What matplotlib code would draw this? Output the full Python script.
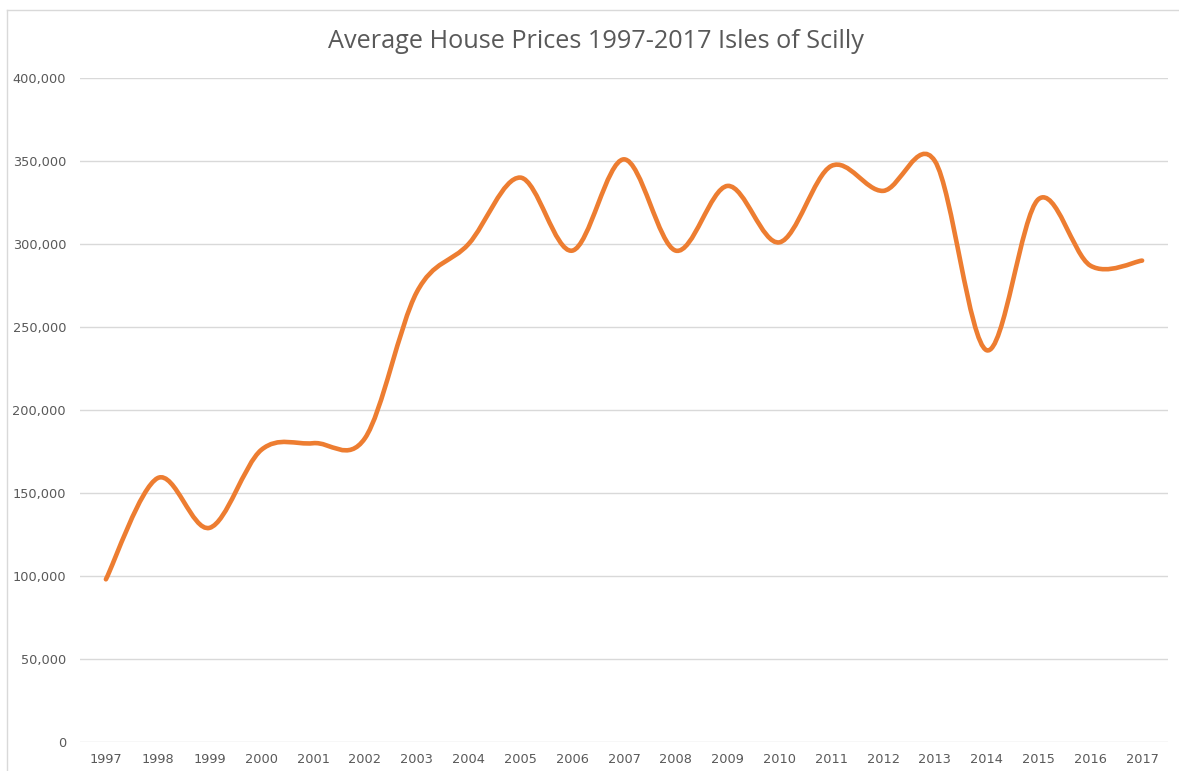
import matplotlib
matplotlib.use("Agg")
import matplotlib.pyplot as plt
import numpy as np
from matplotlib.path import Path
from matplotlib.patches import PathPatch
from matplotlib.lines import Line2D
from matplotlib.ticker import FuncFormatter

# Average house prices, Isles of Scilly
years = [str(y) for y in range(1997, 2018)]
prices = [98000, 159000, 129000, 176000, 180000, 183000, 271000, 300000,
          340000, 296000, 351000, 296000, 335000, 301000, 347000, 332000,
          350000, 236000, 327000, 287000, 290000]

LINE_COLOR = "#ED7D31"
GRID_COLOR = "#D9D9D9"
TEXT_COLOR = "#595959"


def smooth_path(xs, ys):
    """Excel-style smoothed line: cubic Bezier segments through every point."""
    pts = np.column_stack([xs, ys]).astype(float)
    n = len(pts)
    verts = [pts[0]]
    codes = [Path.MOVETO]
    for i in range(n - 1):
        p0 = pts[max(i - 1, 0)]
        p1 = pts[i]
        p2 = pts[i + 1]
        p3 = pts[min(i + 2, n - 1)]
        c1 = p1 + (p2 - p0) / 6.0
        c2 = p2 - (p3 - p1) / 6.0
        verts += [c1, c2, p2]
        codes += [Path.CURVE4] * 3
    return Path(verts, codes)


fig = plt.figure(figsize=(11.79, 7.71), dpi=100)
ax = fig.add_axes([80 / 1179, 29 / 771, 1088 / 1179, 664 / 771])

x = np.arange(len(years))
ax.add_patch(PathPatch(smooth_path(x, prices), fill=False, edgecolor=LINE_COLOR,
                       linewidth=3.3, capstyle="round", joinstyle="round", zorder=3))

ax.set_xlim(-0.5, len(years) - 0.5)
ax.set_ylim(0, 400000)
ax.set_yticks(np.arange(0, 400001, 50000))
ax.yaxis.set_major_formatter(FuncFormatter(lambda v, _: f"{int(v):,}"))
ax.set_xticks(x)
ax.set_xticklabels(years)

ax.grid(axis="y", color=GRID_COLOR, linewidth=1.0)
ax.set_axisbelow(True)
for s in ax.spines.values():
    s.set_visible(False)
ax.tick_params(axis="both", length=0, labelsize=9.3, colors=TEXT_COLOR)
ax.tick_params(axis="y", pad=10)
ax.tick_params(axis="x", pad=8)

fig.text(596 / 1179, 1 - 42 / 771, "Average House Prices 1997-2017 Isles of Scilly",
         ha="center", va="center", fontsize=18.2, color=TEXT_COLOR, family="Open Sans")

# chart-area border (cropped at the right and bottom)
fig.add_artist(Line2D([7 / 1179, 1], [1 - 10 / 771, 1 - 10 / 771],
                      color=GRID_COLOR, linewidth=1.0))
fig.add_artist(Line2D([7 / 1179, 7 / 1179], [0, 1 - 10 / 771],
                      color=GRID_COLOR, linewidth=1.0))

fig.savefig("out.png", dpi=100)
